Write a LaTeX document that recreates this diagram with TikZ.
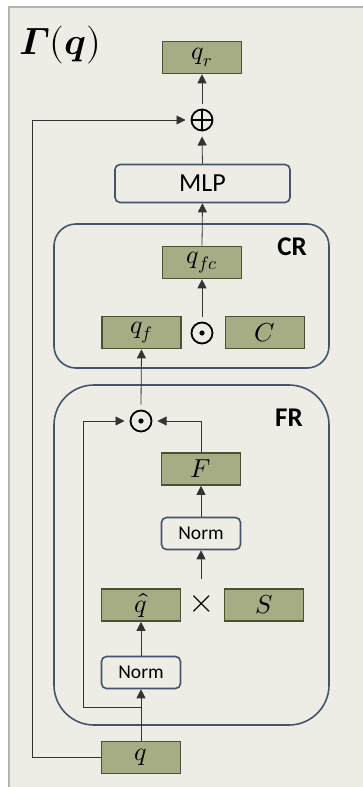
\documentclass[tikz,border=0pt]{standalone}
\usepackage{fontspec}
\usepackage{unicode-math}
\newfontfamily\carlito{Carlito}
\usetikzlibrary{arrows.meta,positioning,calc}
\definecolor{bgc}{HTML}{EDEDE6}
\definecolor{panelline}{HTML}{B4B4B4}
\definecolor{olivefill}{HTML}{A6AD85}
\definecolor{oliveline}{HTML}{4B5233}
\definecolor{slateline}{HTML}{44546A}
\definecolor{conn}{HTML}{333333}
\tikzset{
  olivebox/.style={draw=oliveline, fill=olivefill, line width=1.6pt, minimum width=79pt, minimum height=32pt, inner sep=0pt, font=\fontsize{26}{28}\selectfont},
  roundbox/.style={draw=slateline, fill=bgc, line width=1.6pt, rounded corners=5pt, inner sep=0pt, font=\carlito\fontsize{19.5}{22}\selectfont},
  groupbox/.style={draw=slateline, line width=1.6pt},
  grouplabel/.style={font=\carlito\bfseries\fontsize{27}{30}\selectfont},
  opcircle/.style={circle, draw=black, line width=1.8pt, minimum size=21pt, inner sep=0pt, outer sep=6pt},
  arr/.style={draw=conn, line width=0.8pt, -{Triangle[length=9pt,width=9pt]}},
  plainline/.style={draw=conn, line width=0.8pt}
}
\begin{document}
\begin{tikzpicture}[x=1pt,y=-1pt]
\useasboundingbox (0,0) rectangle (363,787);
\fill[white] (0,0) rectangle (363,787);
\fill[bgc] (9,7) rectangle (364,788);
\draw[panelline, line width=1.2pt] (9,788) -- (9,7) -- (364,7);

% group boxes
\draw[groupbox, rounded corners=22pt] (54,224) rectangle (329,368);
\node[grouplabel] (crlabel) at (292,247) {CR};
\draw[groupbox, rounded corners=40pt] (54,385) rectangle (329,725);
\node[grouplabel] (frlabel) at (289,418) {FR};

% title
\node (title) at (60,45) {\fontsize{38}{42}\selectfont$\symbfit{\Gamma}(\symbfit{q})$};

% nodes
\node[olivebox] (qr) at (202,57.5) {$q_r$};
\node[opcircle, path picture={
  \draw[line width=1.8pt] (path picture bounding box.north) -- (path picture bounding box.south);
  \draw[line width=1.8pt] (path picture bounding box.west) -- (path picture bounding box.east);}] (oplus) at (202,120) {};
\node[roundbox, minimum width=175pt, minimum height=38pt, font=\carlito\fontsize{26}{28}\selectfont] (mlp) at (202.5,183.5) {MLP};

\node[olivebox] (qfc) at (202,262.5) {$q_{fc}$};
\node[opcircle] (odotc) at (202,333) {};
\fill (odotc.center) circle (2.6pt);
\node[olivebox] (qf) at (141.5,332.5) {$q_f$};
\node[olivebox] (cc) at (265,332.5) {$C$};

\node[opcircle] (odotf) at (141,421) {};
\fill (odotf.center) circle (2.6pt);
\node[olivebox] (ff) at (201,469) {$F$};
\node[roundbox, minimum width=79pt, minimum height=32pt] (norma) at (201,533.5) {Norm};
\node[olivebox] (qhat) at (141,605) {$\hat{q}$};
\node[font=\fontsize{34}{36}\selectfont] (times) at (202,604) {$\times$};
\node[olivebox] (ss) at (264,605) {$S$};
\node[roundbox, minimum width=79pt, minimum height=32pt] (normb) at (141,672.5) {Norm};
\node[olivebox] (qq) at (141,757.5) {$q$};

% coordinates
\coordinate (b1) at (141,707);
\coordinate (c1) at (83,707);
\coordinate (c2) at (32,757.5);
\coordinate (tx) at (201,579);

% connectors
\draw[arr] (qq.north) -- (normb.south);
\draw[plainline] (b1) -- (c1);
\draw[arr] (c1) |- (odotf.west);
\draw[plainline] (qq.west) -- (c2);
\draw[arr] (c2) |- (oplus.west);
\draw[arr] (normb.north) -- (qhat.south);
\draw[arr] (tx) -- (norma.south);
\draw[arr] (norma.north) -- (ff.south);
\draw[arr] (ff.north) |- (odotf.east);
\draw[arr] (odotf.north) -- (qf.south);
\draw[arr] (odotc.north) -- (qfc.south);
\draw[arr] (qfc.north) -- (mlp.south);
\draw[arr] (mlp.north) -- (oplus.south);
\draw[arr] (oplus.north) -- (qr.south);
\end{tikzpicture}
\end{document}
